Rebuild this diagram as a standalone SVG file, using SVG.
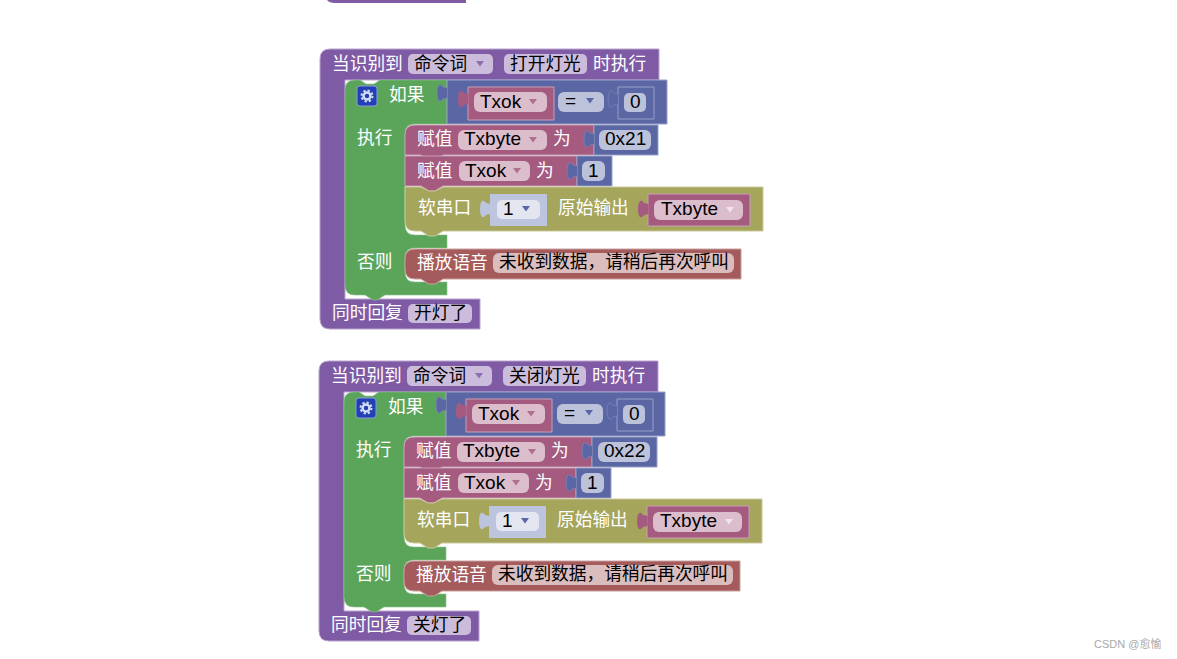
<svg xmlns="http://www.w3.org/2000/svg" width="1177" height="659" viewBox="0 0 1177 659">
<style>
text{font-family:"Liberation Sans","Noto Sans CJK SC",sans-serif;font-size:17.700px;fill:#000}
.w{fill:#fff}
.l{font-size:19px}
.p{fill:#805ba5;stroke:#b9a3cd;stroke-width:1}
.g{fill:#5ba55b;stroke:#8cc08c;stroke-width:.6}
.b{fill:#5b67a5;stroke:#98a0c6;stroke-width:1}
.t{fill:#5b67a5;stroke:#7f89b8;stroke-width:.6}
.k{fill:#a55b80;stroke:#c7a0b5;stroke-width:1}
.o{fill:#a5a55b;stroke:#c9c99f;stroke-width:1}
.r{fill:#a55b5b;stroke:#c8a0a0;stroke-width:1}
.fp{fill:#ccbcdb}.fb{fill:#bdc2db}.fk{fill:#dbbdcc}.fr{fill:#dbbdbd}.fl{fill:#e3e5f0}
.ap{fill:#805ba5;fill-opacity:.8}.ab{fill:#5b67a5}.ak{fill:#a55b80;fill-opacity:.8}.aw{fill:#fff;fill-opacity:.6}
</style>
<defs>
<path id="tab" d="M0.500,4 L-4,3 Q-6,0 -8,1 Q-10,3 -10,9 Q-10,15 -8,17 Q-6,18 -4,15 L0.500,14 Z"/>
<g id="gear">
<rect x="357" y="86" width="20" height="20" rx="3" fill="#2140b5" stroke="#8a9ad8"/>
<circle cx="367" cy="96" r="3.500" fill="none" stroke="#d5dcf5" stroke-width="2.500"/>
<circle cx="367" cy="96" r="5.500" fill="none" stroke="#d5dcf5" stroke-width="2" stroke-dasharray="2.300 2"/>
</g>
</defs>
<g id="fragment"><path d="M327,0 H466 V3 H335 Q329,3 327,0 Z" fill="#805ba5"/></g>

<g id="block-on">
<g id="on-event">
<path class="p" d="M330,49 H659 V80 H345 V299 H480 V329 H330 Q320,329 320,319 V59 Q320,49 330,49 Z"/>
<rect class="fp" x="408" y="54" width="85" height="20" rx="5"/>
<text x="414" y="70">命令词</text><path class="ap" d="M476,61 H484 L480,66.500 Z"/>
<rect class="fp" x="504" y="54" width="83" height="20" rx="5"/>
<text x="510" y="70">打开灯光</text>
<text class="w" x="332" y="70">当识别到</text><text class="w" x="593" y="70">时执行</text>
<rect class="fp" x="408" y="304" width="64" height="19" rx="5"/>
<text x="414" y="319">开灯了</text><text class="w" x="332" y="319">同时回复</text>
</g>
<g id="on-if">
<path class="g" d="M345,90 Q345,80 355,80 H360 L366,84 H374 L380,80 H447 V124 H415 Q405,124 405,134 V225 Q405,235 415,235 H447 V248 H415 Q405,248 405,258 V272 Q405,282 415,282 H447 V295 H385 L377,300 H373 L365,295 H355 Q345,295 345,285 Z"/>
<use href="#gear"/>
<text class="w" x="389" y="101">如果</text><text class="w" x="357" y="144">执行</text><text class="w" x="357" y="268">否则</text>
</g>
<g id="on-cond">
<path class="b" d="M447,80 H667 V124 H447 Z"/>
<use href="#tab" class="t" x="447" y="84"/>
<path class="k" d="M468,87 H554 V120 H468 Z"/>
<use href="#tab" class="k" x="468" y="90" style="stroke:none"/>
<rect class="fk" x="474" y="92" width="73" height="20" rx="6"/>
<text class="l" x="480" y="108">Txok</text><path class="ak" d="M529,99 H537 L533,104.500 Z"/>
<rect class="fb" x="558" y="92" width="46" height="20" rx="6"/>
<text class="l" x="565" y="107">=</text><path class="ab" d="M586,98 H594 L590,103.500 Z"/>
<path d="M618,87 H654 V119 H618 Z" fill="#5b67a5" stroke="#98a0c6"/>
<use href="#tab" class="t" x="618" y="90"/>
<rect class="fb" x="624" y="93" width="22" height="19" rx="5"/>
<text class="l" x="630" y="108">0</text>
</g>
<g id="on-set1">
<path class="k" d="M415,125 H594 V155 H443 L435,160 H429 L421,155 H405 V135 Q405,125 415,125 Z"/>
<rect class="fk" x="458" y="130" width="89" height="20" rx="6"/>
<text x="417" y="145" class="w">赋值</text><text class="l" x="464" y="145">Txbyte</text><path class="ak" d="M529,137 H537 L533,142.500 Z"/>
<text x="553" y="145" class="w">为</text>
<path class="b" d="M594,125 H658 V155 H594 Z"/><use href="#tab" class="t" x="594" y="130"/>
<rect class="fb" x="599" y="130" width="52" height="20" rx="6"/>
<text class="l" x="605" y="145">0x21</text>
</g>
<g id="on-set2">
<path class="k" d="M405,156 H577 V186 H443 L435,191 H429 L421,186 H405 Z"/>
<rect class="fk" x="459" y="161" width="71" height="20" rx="6"/>
<text x="417" y="177" class="w">赋值</text><text class="l" x="465" y="177">Txok</text><path class="ak" d="M513,168 H521 L517,173.500 Z"/>
<text x="536" y="177" class="w">为</text>
<path class="b" d="M577,156 H612 V186 H577 Z"/><use href="#tab" class="t" x="577" y="162"/>
<rect class="fb" x="582" y="161" width="23" height="20" rx="6"/>
<text class="l" x="588" y="177">1</text>
</g>
<g id="on-serial">
<path class="o" d="M405,187 H421 L429,191 H435 L443,187 H763 V231 H443 L435,236 H429 L421,231 H415 Q405,231 405,221 Z"/>
<text x="418" y="214" class="w">软串口</text>
<path d="M490,194 H547 V226 H490 Z" fill="#bcc4de"/>
<use href="#tab" fill="#bcc4de" x="490" y="200"/>
<rect class="fl" x="497" y="200" width="43" height="19" rx="5"/>
<text class="l" x="503" y="215">1</text><path class="ab" d="M522,206 H530 L526,211.500 Z"/>
<text x="558" y="214" class="w">原始输出</text>
<path class="k" d="M648,194 H750 V226 H648 Z"/>
<use href="#tab" class="k" x="648" y="200" style="stroke:none"/>
<rect class="fk" x="654" y="200" width="89" height="20" rx="6"/>
<text class="l" x="661" y="215">Txbyte</text><path class="aw" d="M726,207 H734 L730,212.500 Z"/>
</g>
<g id="on-play">
<path class="r" d="M415,249 H741 V279 H443 L435,284 H429 L421,279 H415 Q405,279 405,269 V259 Q405,249 415,249 Z"/>
<rect class="fr" x="493" y="253" width="241" height="20" rx="6"/>
<text x="417" y="269" class="w">播放语音</text><text x="499" y="268">未收到数据，请稍后再次呼叫</text>
</g>
</g>

<g id="block-off" transform="translate(-1,312)">
<g id="off-event">
<path class="p" d="M330,49 H659 V80 H345 V299 H480 V329 H330 Q320,329 320,319 V59 Q320,49 330,49 Z"/>
<rect class="fp" x="408" y="54" width="85" height="20" rx="5"/>
<text x="414" y="70">命令词</text><path class="ap" d="M476,61 H484 L480,66.500 Z"/>
<rect class="fp" x="504" y="54" width="83" height="20" rx="5"/>
<text x="510" y="70">关闭灯光</text>
<text class="w" x="332" y="70">当识别到</text><text class="w" x="593" y="70">时执行</text>
<rect class="fp" x="408" y="304" width="64" height="19" rx="5"/>
<text x="414" y="319">关灯了</text><text class="w" x="332" y="319">同时回复</text>
</g>
<g id="off-if">
<path class="g" d="M345,90 Q345,80 355,80 H360 L366,84 H374 L380,80 H447 V124 H415 Q405,124 405,134 V225 Q405,235 415,235 H447 V248 H415 Q405,248 405,258 V272 Q405,282 415,282 H447 V295 H385 L377,300 H373 L365,295 H355 Q345,295 345,285 Z"/>
<use href="#gear"/>
<text class="w" x="389" y="101">如果</text><text class="w" x="357" y="144">执行</text><text class="w" x="357" y="268">否则</text>
</g>
<g id="off-cond">
<path class="b" d="M447,80 H666 V124 H447 Z"/>
<use href="#tab" class="t" x="447" y="84"/>
<path class="k" d="M467,87 H553 V120 H467 Z"/>
<use href="#tab" class="k" x="467" y="90" style="stroke:none"/>
<rect class="fk" x="473" y="92" width="73" height="20" rx="6"/>
<text class="l" x="479" y="108">Txok</text><path class="ak" d="M528,99 H536 L532,104.500 Z"/>
<rect class="fb" x="558" y="92" width="46" height="20" rx="6"/>
<text class="l" x="565" y="107">=</text><path class="ab" d="M586,98 H594 L590,103.500 Z"/>
<path d="M618,87 H654 V119 H618 Z" fill="#5b67a5" stroke="#98a0c6"/>
<use href="#tab" class="t" x="618" y="90"/>
<rect class="fb" x="624" y="93" width="22" height="19" rx="5"/>
<text class="l" x="630" y="108">0</text>
</g>
<g id="off-set1">
<path class="k" d="M415,125 H593 V155 H443 L435,160 H429 L421,155 H405 V135 Q405,125 415,125 Z"/>
<rect class="fk" x="458" y="130" width="88" height="20" rx="6"/>
<text x="417" y="145" class="w">赋值</text><text class="l" x="464" y="145">Txbyte</text><path class="ak" d="M529,137 H537 L533,142.500 Z"/>
<text x="552" y="145" class="w">为</text>
<path class="b" d="M593,125 H658 V155 H593 Z"/><use href="#tab" class="t" x="593" y="130"/>
<rect class="fb" x="599" y="130" width="52" height="20" rx="6"/>
<text class="l" x="605" y="145">0x22</text>
</g>
<g id="off-set2">
<path class="k" d="M405,156 H577 V186 H443 L435,191 H429 L421,186 H405 Z"/>
<rect class="fk" x="459" y="161" width="71" height="20" rx="6"/>
<text x="417" y="177" class="w">赋值</text><text class="l" x="465" y="177">Txok</text><path class="ak" d="M513,168 H521 L517,173.500 Z"/>
<text x="536" y="177" class="w">为</text>
<path class="b" d="M577,156 H612 V186 H577 Z"/><use href="#tab" class="t" x="577" y="162"/>
<rect class="fb" x="582" y="161" width="23" height="20" rx="6"/>
<text class="l" x="588" y="177">1</text>
</g>
<g id="off-serial">
<path class="o" d="M405,187 H421 L429,191 H435 L443,187 H763 V231 H443 L435,236 H429 L421,231 H415 Q405,231 405,221 Z"/>
<text x="418" y="214" class="w">软串口</text>
<path d="M490,194 H547 V226 H490 Z" fill="#bcc4de"/>
<use href="#tab" fill="#bcc4de" x="490" y="200"/>
<rect class="fl" x="497" y="200" width="43" height="19" rx="5"/>
<text class="l" x="503" y="215">1</text><path class="ab" d="M522,206 H530 L526,211.500 Z"/>
<text x="558" y="214" class="w">原始输出</text>
<path class="k" d="M648,194 H750 V226 H648 Z"/>
<use href="#tab" class="k" x="648" y="200" style="stroke:none"/>
<rect class="fk" x="654" y="200" width="89" height="20" rx="6"/>
<text class="l" x="661" y="215">Txbyte</text><path class="aw" d="M726,207 H734 L730,212.500 Z"/>
</g>
<g id="off-play">
<path class="r" d="M415,249 H741 V279 H443 L435,284 H429 L421,279 H415 Q405,279 405,269 V259 Q405,249 415,249 Z"/>
<rect class="fr" x="493" y="253" width="241" height="20" rx="6"/>
<text x="417" y="269" class="w">播放语音</text><text x="499" y="268">未收到数据，请稍后再次呼叫</text>
</g>
</g>
<g id="connectors"/>
<text x="1094" y="648" style="font-size:11px;fill:#a8a8a8">CSDN @愈愉</text>
</svg>
